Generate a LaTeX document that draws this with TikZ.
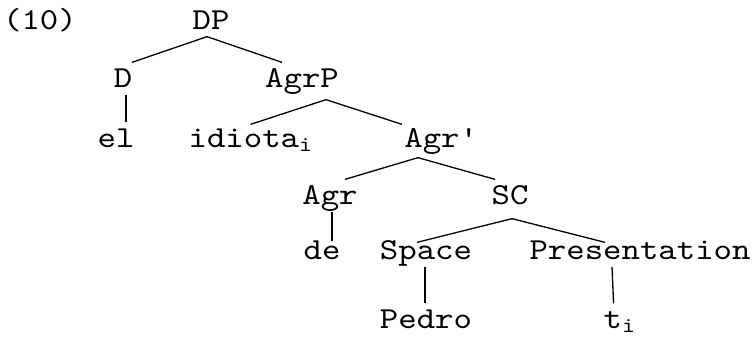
\documentclass[tikz,border=0pt]{standalone}
\usepackage{fontspec}
\setmonofont[FakeStretch=1.15]{lmmono10-regular.otf}

\begin{document}
\begin{tikzpicture}[x=1pt, y=-1pt, line width=1.3pt,
  lab/.style={anchor=base, inner xsep=0pt, inner ysep=7pt, text height=17pt,
    text depth=0pt, font=\fontsize{30.5}{36}\selectfont\ttfamily}]
  \useasboundingbox (0,0) rectangle (754,338);
  \node[lab] (ex)     at (40,29)   {(10)};
  \node[lab] (DP)     at (211,29)  {DP};
  \node[lab] (D)      at (123,87)  {D};
  \node[lab] (AgrP)   at (302,87)  {AgrP};
  \node[lab] (el)     at (116,147) {el};
  \node[lab, anchor=base west] (idiota) at (188,147) {idiota\textsubscript{i}};
  \node[lab] (Agrbar) at (440,147) {Agr\textquotesingle};
  \node[lab] (Agr)    at (330,204) {Agr};
  \node[lab] (SC)     at (510,204) {SC};
  \node[lab] (de)     at (322,259) {de};
  \node[lab] (Space)  at (426,259) {Space};
  \node[lab] (Pres)   at (640,259) {Presentation};
  \node[lab] (Pedro)  at (426,328) {Pedro};
  \node[lab, anchor=base west] (t) at (603,328) {t\textsubscript{i}};
  \draw ([xshift=-4pt]DP.south) -- ([xshift=9pt]D.north);
  \draw ([xshift=-4pt]DP.south) -- ([xshift=-20pt]AgrP.north);
  \draw ([xshift=3pt]D.south) -- ([xshift=10pt]el.north);
  \draw ([xshift=24pt,yshift=-5pt]AgrP.south) -- ([yshift=-2pt]idiota.north);
  \draw ([xshift=24pt,yshift=-5pt]AgrP.south) -- ([xshift=-38pt,yshift=-2pt]Agrbar.north);
  \draw ([xshift=-22pt,yshift=-3pt]Agrbar.south) -- ([xshift=15pt]Agr.north);
  \draw ([xshift=-22pt,yshift=-3pt]Agrbar.south) -- ([xshift=-15pt]SC.north);
  \draw ([xshift=2pt]Agr.south) -- ([xshift=10pt,yshift=-7pt]de.north);
  \draw ([xshift=2pt,yshift=-7pt]SC.south) -- ([xshift=-9pt,yshift=-8pt]Space.north);
  \draw ([xshift=2pt,yshift=-7pt]SC.south) -- ([xshift=-35pt,yshift=-8pt]Pres.north);
  \draw ([xshift=-1pt]Space.south) -- ([xshift=-1pt]Pedro.north);
  \draw ([xshift=-28pt]Pres.south) -- ([xshift=-6pt]t.north);
\end{tikzpicture}
\end{document}
